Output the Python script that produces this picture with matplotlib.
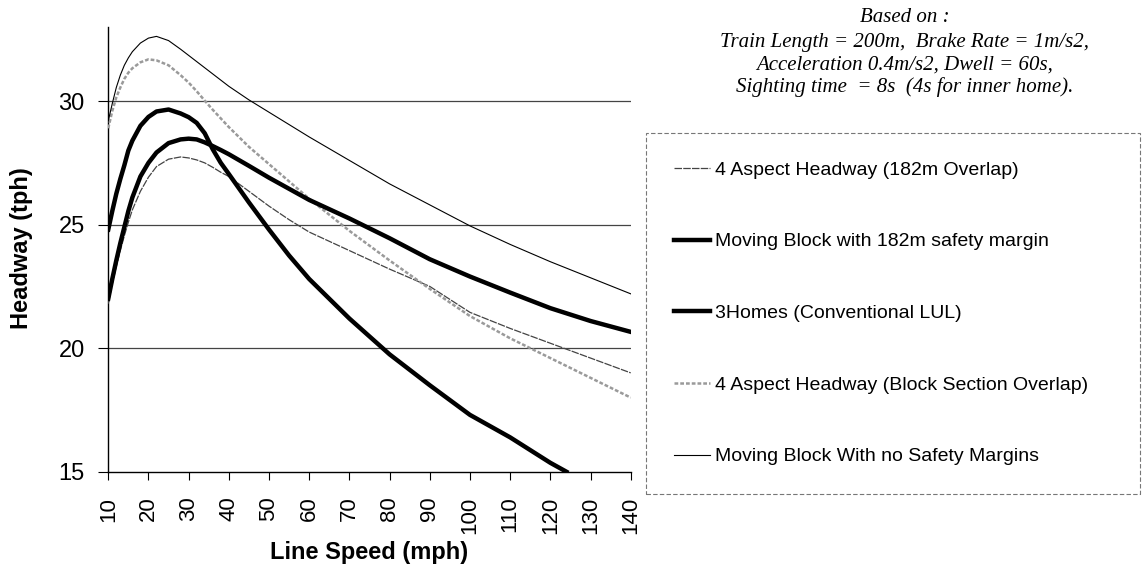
import matplotlib
matplotlib.use("Agg")
import matplotlib.pyplot as plt

# line speed (mph)
speed = [10, 11, 12, 13, 14, 15, 16, 18, 20, 22, 25, 28, 30, 32, 34, 36, 38, 40, 45, 50,
         55, 60, 70, 80, 90, 100, 110, 120, 130, 140]

# headway (tph)
mb_no_margin = [29.2, 29.9, 30.55, 31.05, 31.45, 31.75, 32.0, 32.35, 32.55, 32.62, 32.45,
                32.1, 31.85, 31.6, 31.35, 31.1, 30.85, 30.6, 30.05, 29.55, 29.05, 28.55,
                27.6, 26.65, 25.8, 24.95, 24.2, 23.5, 22.85, 22.2]
aspect4_block = [28.9, 29.6, 30.15, 30.55, 30.9, 31.15, 31.33, 31.57, 31.69, 31.65, 31.45,
                 31.05, 30.75, 30.4, 30.02, 29.65, 29.3, 28.95, 28.15, 27.45, 26.75, 26.05,
                 24.75, 23.55, 22.4, 21.3, 20.4, 19.6, 18.8, 18.0]
aspect4_182 = [21.8, 22.6, 23.3, 23.95, 24.55, 25.1, 25.6, 26.35, 26.92, 27.35, 27.65,
               27.74, 27.7, 27.62, 27.5, 27.32, 27.12, 26.95, 26.35, 25.75, 25.2, 24.7,
               23.95, 23.2, 22.5, 21.45, 20.8, 20.2, 19.6, 19.0]
mb_182 = [22.0, 22.8, 23.55, 24.25, 24.9, 25.55, 26.1, 26.95, 27.5, 27.92, 28.3, 28.45,
          28.48, 28.45, 28.33, 28.18, 28.02, 27.85, 27.38, 26.9, 26.45, 26.0, 25.25,
          24.45, 23.6, 22.9, 22.25, 21.62, 21.1, 20.66]

# 3 homes curve leaves the plot at 15 tph
speed_3homes = [10, 11, 12, 13, 14, 15, 16, 18, 20, 22, 25, 28, 30, 32, 34, 36, 38, 40, 45,
                50, 55, 60, 70, 80, 90, 100, 110, 120, 124]
three_homes = [24.8, 25.55, 26.25, 26.85, 27.4, 28.0, 28.4, 29.0, 29.36, 29.58, 29.66,
               29.5, 29.35, 29.12, 28.7, 28.05, 27.5, 27.05, 25.9, 24.8, 23.75, 22.8,
               21.2, 19.75, 18.5, 17.3, 16.39, 15.36, 15.0]

xticks = list(range(10, 141, 10))
yticks = [15, 20, 25, 30]

notes = ["Based on :",
         "Train Length = 200m,  Brake Rate = 1m/s2,",
         "Acceleration 0.4m/s2, Dwell = 60s,",
         "Sighting time  = 8s  (4s for inner home)."]

plt.rcParams['font.family'] = ['Liberation Sans', 'DejaVu Sans']

fig = plt.figure(figsize=(11.48, 5.78), dpi=100)
ax = fig.add_axes([0.0943, 0.1839, 0.4551, 0.7694])

for y in [20, 25, 30]:
    ax.axhline(y, color='#444444', lw=0.9, zorder=1)

l_c, = ax.plot(speed, aspect4_182, color='#444444', lw=0.9, ls=(0, (6, 1)), zorder=3)
l_d, = ax.plot(speed, mb_182, color='black', lw=3.2, zorder=4)
l_e, = ax.plot(speed_3homes, three_homes, color='black', lw=3.2, zorder=4)
l_b, = ax.plot(speed, aspect4_block, color='#9a9a9a', lw=1.8, ls=(0, (1.5, 0.8)), zorder=3)
l_a, = ax.plot(speed, mb_no_margin, color='black', lw=0.8, zorder=3)

ax.set_xlim(10, 140)
ax.set_ylim(15, 33)
ax.set_xticks(xticks)
ax.set_yticks(yticks)
ax.tick_params(axis='x', labelsize=16, rotation=90, length=6, pad=12, direction='out')
ax.tick_params(axis='y', labelsize=17, length=7, pad=10, direction='out')
for s in ['top', 'right']:
    ax.spines[s].set_visible(False)
for s in ['left', 'bottom']:
    ax.spines[s].set_linewidth(1.0)

fig.text(369.5 / 1148, 1 - 553 / 578, 'Line Speed (mph)', ha='center', va='center',
         fontsize=17, fontweight='bold')
fig.text(22 / 1148, 1 - 248 / 578, 'Headway (tph)', ha='center', va='center',
         rotation=90, fontsize=17, fontweight='bold')

note_y = [17, 42, 65, 87]
for t, y in zip(notes, note_y):
    fig.text(905 / 1148, 1 - y / 578, t, ha='center', va='center', fontsize=15,
             family='Liberation Serif', style='italic')

handles = [l_c, l_d, l_e, l_b, l_a]
labels = ['4 Aspect Headway (182m Overlap)',
          'Moving Block with 182m safety margin',
          '3Homes (Conventional LUL)',
          '4 Aspect Headway (Block Section Overlap)',
          'Moving Block With no Safety Margins']
leg = fig.legend(handles, labels, loc='upper left',
                 bbox_to_anchor=(646 / 1148, 1 - 133 / 578, (1140 - 646) / 1148, 0.0),
                 bbox_transform=fig.transFigure, mode='expand', borderaxespad=0,
                 fancybox=False, fontsize=14, handlelength=1.85, handletextpad=0.25,
                 labelspacing=2.78, borderpad=1.45)
fr = leg.get_frame()
fr.set_edgecolor('#555555')
fr.set_linestyle((0, (4, 2)))
fr.set_linewidth(0.8)

fig.savefig('out.png', dpi=100)
